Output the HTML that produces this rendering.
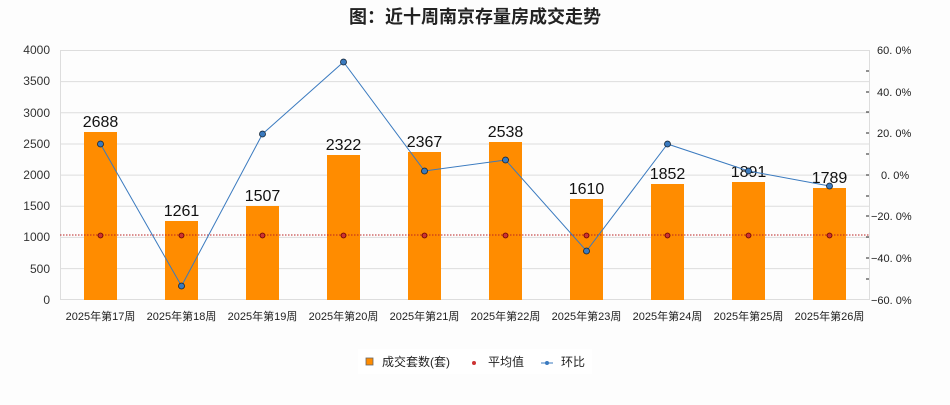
<!DOCTYPE html>
<html><head><meta charset="utf-8"><style>
body{margin:0;background:#fdfdfd;}
text{font-family:"Liberation Sans","Noto Sans CJK SC",sans-serif;}
</style></head><body>
<svg width="950" height="400" xmlns="http://www.w3.org/2000/svg">
<rect width="950" height="400" fill="#fdfdfd"/>
<text x="475" y="23" text-anchor="middle" font-size="18" font-weight="bold" fill="#222">图：近十周南京存量房成交走势</text>
<g stroke="#ddd" stroke-width="1">
<line x1="60" y1="50.5" x2="870" y2="50.5"/><line x1="60" y1="81.6" x2="870" y2="81.6"/><line x1="60" y1="112.8" x2="870" y2="112.8"/><line x1="60" y1="144" x2="870" y2="144"/><line x1="60" y1="175.1" x2="870" y2="175.1"/><line x1="60" y1="206.2" x2="870" y2="206.2"/><line x1="60" y1="237.4" x2="870" y2="237.4"/><line x1="60" y1="268.6" x2="870" y2="268.6"/>
<line x1="60.5" y1="50" x2="60.5" y2="300"/><line x1="869.5" y1="50" x2="869.5" y2="300"/>
<line x1="60" y1="299.5" x2="870" y2="299.5"/>
</g>
<g font-size="12" fill="#333" text-anchor="end">
<text x="50" y="54">4000</text><text x="50" y="85">3500</text><text x="50" y="117">3000</text><text x="50" y="148">2500</text><text x="50" y="179">2000</text><text x="50" y="210">1500</text><text x="50" y="241">1000</text><text x="50" y="273">500</text><text x="50" y="304">0</text>
</g>
<g font-size="11" fill="#222">
<text x="877" y="54">60. 0%</text><text x="877" y="96">40. 0%</text><text x="877" y="137">20. 0%</text><text x="881" y="179">0. 0%</text><text x="871" y="220">−20. 0%</text><text x="871" y="262">−40. 0%</text><text x="871" y="304">−60. 0%</text>
</g>
<g stroke="#222"><line x1="866" y1="71" x2="869" y2="71"/><line x1="866" y1="92" x2="869" y2="92"/><line x1="866" y1="112" x2="869" y2="112"/><line x1="866" y1="133" x2="869" y2="133"/><line x1="866" y1="154" x2="869" y2="154"/><line x1="866" y1="175" x2="869" y2="175"/><line x1="866" y1="196" x2="869" y2="196"/><line x1="866" y1="216" x2="869" y2="216"/><line x1="866" y1="237" x2="869" y2="237"/><line x1="866" y1="258" x2="869" y2="258"/><line x1="866" y1="279" x2="869" y2="279"/></g>
<g fill="#ff8c00">
<rect x="84" y="132" width="33" height="168"/>
<rect x="165" y="221" width="33" height="79"/>
<rect x="246" y="206" width="33" height="94"/>
<rect x="327" y="155" width="33" height="145"/>
<rect x="408" y="152" width="33" height="148"/>
<rect x="489" y="142" width="33" height="158"/>
<rect x="570" y="199" width="33" height="101"/>
<rect x="651" y="184" width="33" height="116"/>
<rect x="732" y="182" width="33" height="118"/>
<rect x="813" y="188" width="33" height="112"/>
</g>
<g font-size="16" fill="#111" text-anchor="middle">
<text x="100.5" y="127">2688</text><text x="181.5" y="216">1261</text><text x="262.5" y="201">1507</text><text x="343.5" y="150">2322</text><text x="424.5" y="147">2367</text><text x="505.5" y="137">2538</text><text x="586.5" y="194">1610</text><text x="667.5" y="179">1852</text><text x="748.5" y="177">1891</text><text x="829.5" y="183">1789</text>
</g>
<line x1="60" y1="235" x2="870" y2="235" stroke="#b22" stroke-width="1" stroke-dasharray="1.5,1.5"/>
<g fill="#c33" stroke="#600" stroke-width="0.8">
<circle cx="100.5" cy="235.5" r="2.5"/><circle cx="181.5" cy="235.5" r="2.5"/><circle cx="262.5" cy="235.5" r="2.5"/><circle cx="343.5" cy="235.5" r="2.5"/><circle cx="424.5" cy="235.5" r="2.5"/><circle cx="505.5" cy="235.5" r="2.5"/><circle cx="586.5" cy="235.5" r="2.5"/><circle cx="667.5" cy="235.5" r="2.5"/><circle cx="748.5" cy="235.5" r="2.5"/><circle cx="829.5" cy="235.5" r="2.5"/>
</g>
<polyline fill="none" stroke="#3a7abf" stroke-width="1" points="100.5,144 181.5,286 262.5,134 343.5,62 424.5,171 505.5,160 586.5,251 667.5,144 748.5,171 829.5,186"/>
<g fill="#3a7abf" stroke="#123" stroke-width="0.8">
<circle cx="100.5" cy="144" r="3"/><circle cx="181.5" cy="286" r="3"/><circle cx="262.5" cy="134" r="3"/><circle cx="343.5" cy="62" r="3"/><circle cx="424.5" cy="171" r="3"/><circle cx="505.5" cy="160" r="3"/><circle cx="586.5" cy="251" r="3"/><circle cx="667.5" cy="144" r="3"/><circle cx="748.5" cy="171" r="3"/><circle cx="829.5" cy="186" r="3"/>
</g>
<g font-size="11" fill="#222" text-anchor="middle">
<text x="100.5" y="320">2025年第17周</text><text x="181.5" y="320">2025年第18周</text><text x="262.5" y="320">2025年第19周</text><text x="343.5" y="320">2025年第20周</text><text x="424.5" y="320">2025年第21周</text><text x="505.5" y="320">2025年第22周</text><text x="586.5" y="320">2025年第23周</text><text x="667.5" y="320">2025年第24周</text><text x="748.5" y="320">2025年第25周</text><text x="829.5" y="320">2025年第26周</text>
</g>
<rect x="358" y="349" width="234" height="25" fill="#fff"/>
<rect x="366" y="358" width="7" height="7" fill="#ff8c00" stroke="#666" stroke-width="0.8"/>
<text x="382" y="366" font-size="12" fill="#222">成交套数(套)</text>
<circle cx="474" cy="363" r="2" fill="#c33"/>
<text x="488" y="366" font-size="12" fill="#222">平均值</text>
<line x1="541" y1="363" x2="553" y2="363" stroke="#3a7abf"/><circle cx="547" cy="363" r="2" fill="#3a7abf"/>
<text x="561" y="366" font-size="12" fill="#222">环比</text>
</svg>
</body></html>
